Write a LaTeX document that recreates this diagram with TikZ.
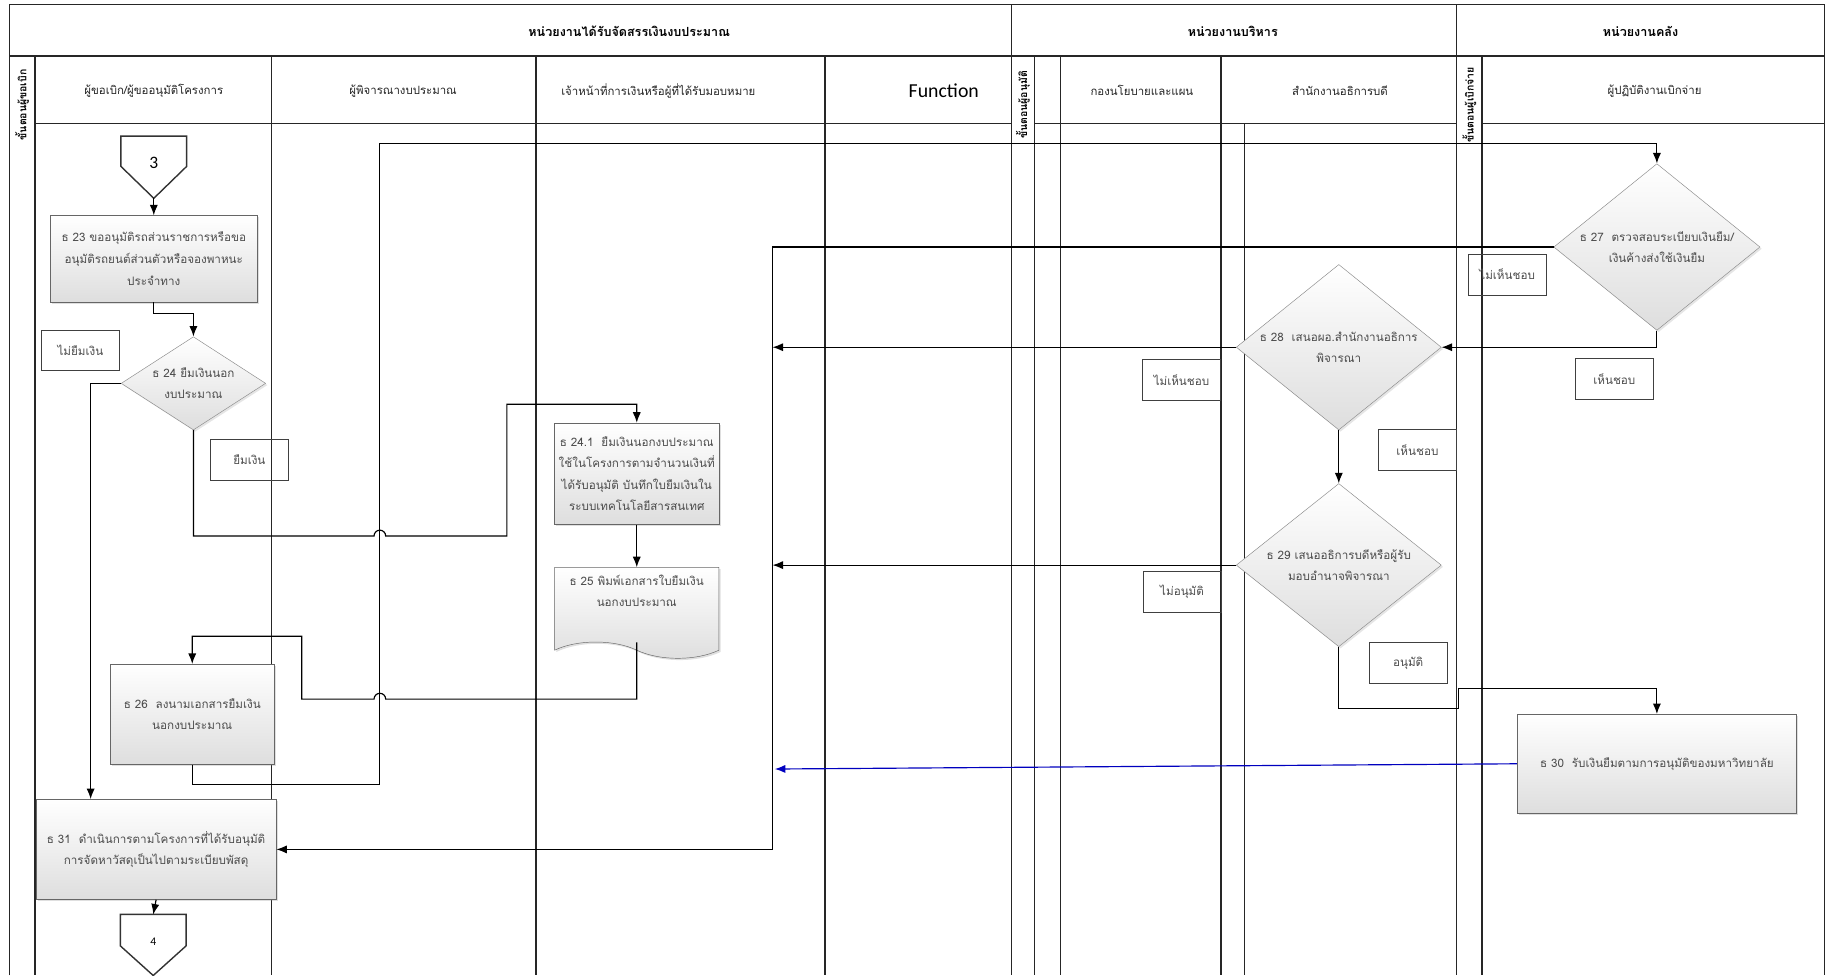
\documentclass[tikz,border=0pt]{standalone}
\usepackage{fontspec}
\newfontfamily\thai[Script=Thai]{Loma}
\newfontfamily\calib{Carlito}
\usetikzlibrary{
    arrows.meta,
    shapes.geometric,
    shapes.symbols,
    shadows,
    calc,
    positioning
}

\begin{document}
\begin{tikzpicture}[x=1pt,y=-1pt,
    lane/.style={line width=1.1pt, black!85},
    txt/.style={font=\thai\fontsize{10}{18.5}\selectfont, text=black!70, align=center},
    hdr/.style={font=\thai\fontsize{9.8}{11}\selectfont, text=black!85},
    grp/.style={font=\thai\bfseries\fontsize{10.8}{12}\selectfont},
    side/.style={font=\thai\bfseries\fontsize{9}{10}\selectfont, rotate=90},
    proc/.style={draw=black!60, top color=white, bottom color=black!13, txt, inner sep=1pt,
        drop shadow={opacity=0.25, shadow xshift=1.5pt, shadow yshift=-1.5pt}},
    dia/.style={diamond, draw=black!45, top color=white, bottom color=black!13, inner sep=0pt,
        drop shadow={opacity=0.2, shadow xshift=1.5pt, shadow yshift=-1.5pt}},
    lbl/.style={draw=black!75, txt, minimum width=67, minimum height=35, inner sep=0pt},
    offp/.style={minimum width=56, minimum height=53, inner sep=0pt},
    offline/.style={line width=1.2pt, black!80},
    flow/.style={-{Latex[length=9pt,width=7pt]}, line width=1pt}
]
    \fill[white] (0,0) rectangle (1568,837);
    \useasboundingbox (0,0) rectangle (1568,837);

    \draw[lane] (8,837) |- (1566,4) -- (1566,837);
    \draw[lane] (8,48) -- (1566,48);
    \foreach \x in {868,1250}
        \draw[lane] (\x,4) -- (\x,837);
    \foreach \x in {30,233,460,708,888,910,1048,1272}
        \draw[lane] (\x,48) -- (\x,837);
    \draw[lane] (1068,106) -- (1068,837);
    \draw[lane] (30,106) -- (868,106) (888,106) -- (1250,106) (1272,106) -- (1566,106);

    \node[grp] (g1) at (540,27) {หน่วยงานได้รับจัดสรรเงินงบประมาณ};
    \node[grp] (g2) at (1058,27) {หน่วยงานบริหาร};
    \node[grp] (g3) at (1408,27) {หน่วยงานคลัง};

    \node[side] (v1) at (19,90) {ขั้นตอนผู้ขอเบิก};
    \node[side] (v2) at (878,90) {ขั้นตอนผู้อนุมัติ};
    \node[side] (v3) at (1261,90) {ขั้นตอนผู้เบิกจ่าย};

    \node[hdr] (h1) at (132,78) {ผู้ขอเบิก/ผู้ขออนุมัติโครงการ};
    \node[hdr] (h2) at (346,78) {ผู้พิจารณางบประมาณ};
    \node[hdr] (h3) at (565,78) {เจ้าหน้าที่การเงินหรือผู้ที่ได้รับมอบหมาย};
    \node[font=\calib\fontsize{17}{20}\selectfont] (h4) at (810,78) {Function};
    \node[hdr] (h5) at (980,78) {กองนโยบายและแผน};
    \node[hdr] (h6) at (1150,78) {สำนักงานอธิการบดี};
    \node[hdr] (h7) at (1420,78) {ผู้ปฏิบัติงานเบิกจ่าย};

    \node[offp, font=\calib\fontsize{15}{18}\selectfont] (c3) at (132,143.5) {\raisebox{8pt}{3}};
    \draw[offline] (c3.north west) -- (c3.north east) -- ($(c3.north east)+(0,26)$)
        -- (c3.south) -- ($(c3.north west)+(0,26)$) -- cycle;
    \node[proc, minimum width=178, minimum height=74] (s23) at (132,222)
        {ธ 23 ขออนุมัติรถส่วนราชการหรือขอ\\อนุมัติรถยนต์ส่วนตัวหรือจองพาหนะ\\ประจำทาง};
    \node[dia, minimum width=124, minimum height=80,
        label={[txt]center:{ธ 24 ยืมเงินนอก\\งบประมาณ}}] (s24) at (166,329) {};
    \node[proc, minimum width=141, minimum height=87] (s241) at (546.5,406.5)
        {ธ 24.1~ ยืมเงินนอกงบประมาณ\\ใช้ในโครงการตามจำนวนเงินที่\\ได้รับอนุมัติ บันทึกใบยืมเงินใน\\ระบบเทคโนโลยีสารสนเทศ};
    \node[proc, tape, tape bend top=none, tape bend bottom=out and in, tape bend height=14pt,
        minimum width=141, minimum height=78, text depth=24pt] (s25) at (546.5,519)
        {ธ 25 พิมพ์เอกสารใบยืมเงิน\\นอกงบประมาณ};
    \node[proc, minimum width=140, minimum height=86] (s26) at (165,613)
        {ธ 26~ ลงนามเอกสารยืมเงิน\\นอกงบประมาณ};
    \node[proc, minimum width=206, minimum height=86] (s31) at (134,729)
        {ธ 31~ ดำเนินการตามโครงการที่ได้รับอนุมัติ\\การจัดหาวัสดุเป็นไปตามระเบียบพัสดุ};
    \node[offp, minimum height=52, font=\calib\fontsize{10}{12}\selectfont] (c4) at (131.5,811) {\raisebox{6pt}{4}};
    \draw[offline] (c4.north west) -- (c4.north east) -- ($(c4.north east)+(0,27)$)
        -- (c4.south) -- ($(c4.north west)+(0,27)$) -- cycle;

    \node[dia, minimum width=177, minimum height=143,
        label={[txt]center:{ธ 27~ ตรวจสอบระเบียบเงินยืม/\\เงินค้างส่งใช้เงินยืม}}] (s27) at (1422,212) {};
    \node[dia, minimum width=176, minimum height=142,
        label={[txt]center:{ธ 28~ เสนอผอ.สำนักงานอธิการ\\พิจารณา}}] (s28) at (1149,298) {};
    \node[dia, minimum width=176, minimum height=140,
        label={[txt]center:{ธ 29 เสนออธิการบดีหรือผู้รับ\\มอบอำนาจพิจารณา}}] (s29) at (1149,485) {};
    \node[proc, minimum width=240, minimum height=85] (s30) at (1422,655.5)
        {ธ 30~ รับเงินยืมตามการอนุมัติของมหาวิทยาลัย};

    \node[lbl] (l1) at (69,300.5) {ไม่ยืมเงิน};
    \node[lbl] (l2) at (214,394.5) {ยืมเงิน};
    \node[lbl] (l3) at (1293.5,235.5) {ไม่เห็นชอบ};
    \node[lbl] (l4) at (1385.5,325) {เห็นชอบ};
    \node[lbl] (l5) at (1014,326) {ไม่เห็นชอบ};
    \node[lbl] (l6) at (1216.5,386) {เห็นชอบ};
    \node[lbl] (l7) at (1014.5,508) {ไม่อนุมัติ};
    \node[lbl] (l8) at (1208.5,569) {อนุมัติ};

    \coordinate (fnbot) at (663,729);
    \coordinate (hopa) at (326,460);
    \coordinate (hopb) at (326,600);
    \coordinate (rise) at (435,347);
    \coordinate (jog) at (259,546);
    \coordinate (reta) at (326,673);
    \coordinate (retb) at (326,123);
    \coordinate (stpa) at (1252,608);
    \coordinate (stpb) at (1252,591);
    \coordinate (bluend) at (665,660);

    \draw[flow] (c3.south) -- (s23.north);
    \draw[flow] (s23.south) -- ++(0,10) -| (s24.north);
    \draw[flow] (s24.west) -| ($(s31.north west)+(47,0)$);
    \draw[flow] (s24.south) |- ([xshift=-5pt]hopa) arc[start angle=180,end angle=360,radius=5]
        -| (rise) -| (s241.north);
    \draw[flow] (s241.south) -- (s25.north);
    \draw[flow] (s25.south) |- ([xshift=5pt]hopb) arc[start angle=360,end angle=180,radius=5]
        -| (jog) -| (s26.north);
    \draw[flow] (s26.south) |- (reta) -- (retb) -| (s27.north);
    \draw[flow] (s27.west) -| (fnbot) -- (s31.east);
    \draw[flow] (s27.south) |- (s28.east);
    \draw[flow] (s28.west) -- (s28.west -| fnbot);
    \draw[flow] (s28.south) -- (s29.north);
    \draw[flow] (s29.west) -- (s29.west -| fnbot);
    \draw[flow] (s29.south) |- (stpa) -- (stpb) -| (s30.north);
    \draw[flow, blue!75!black] (s30.west) -- (bluend);
    \draw[flow] (s31.south) -- (c4.north);
\end{tikzpicture}
\end{document}
